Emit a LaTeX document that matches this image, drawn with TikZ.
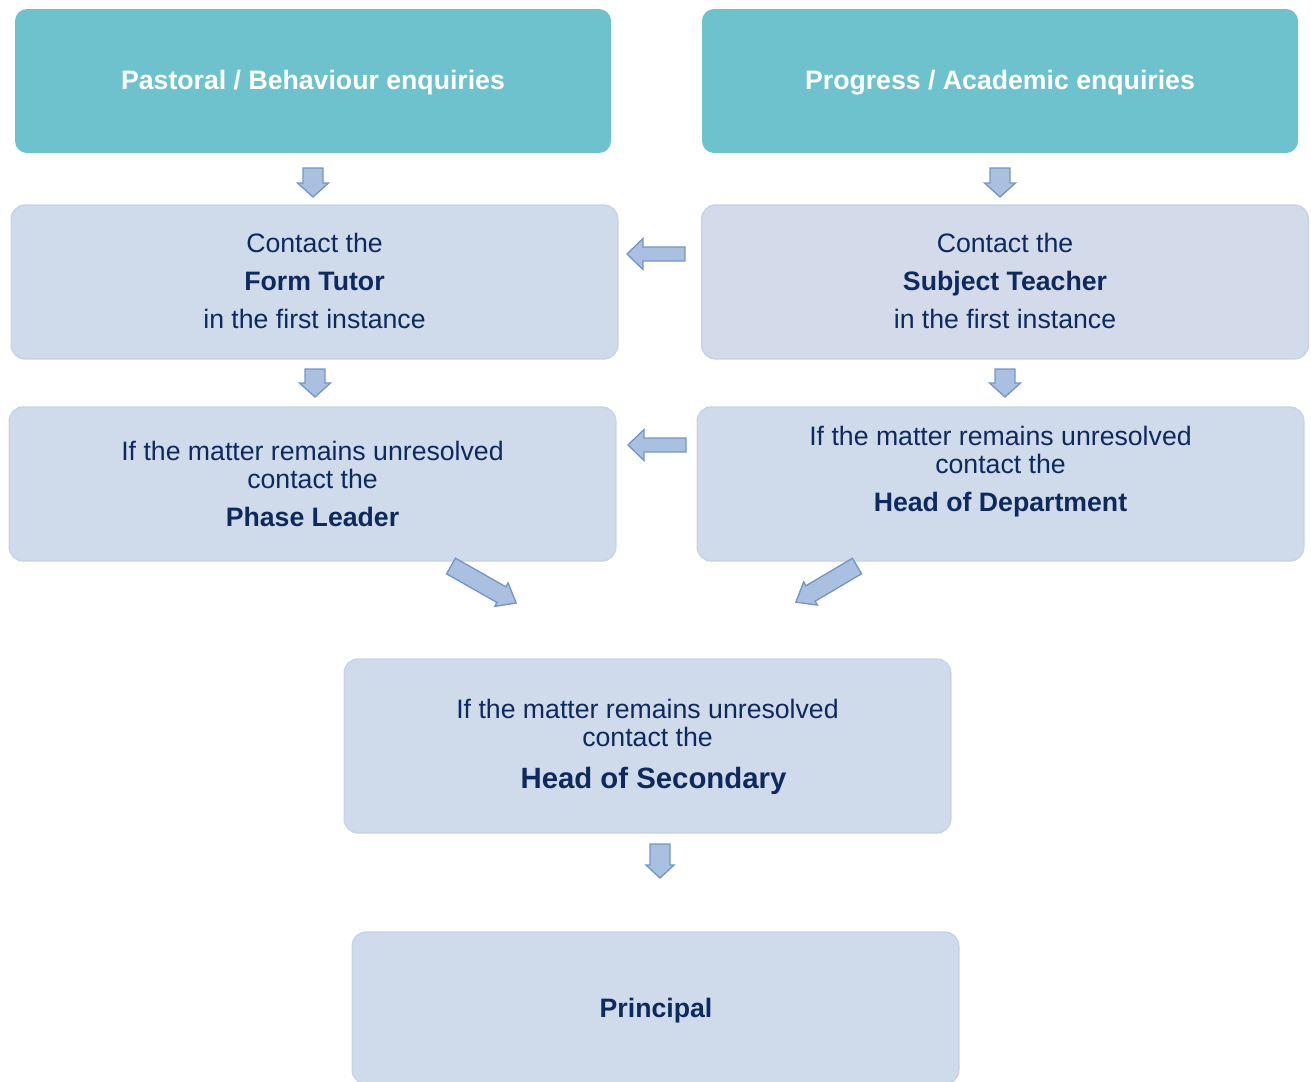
\documentclass[tikz,border=0pt]{standalone}
\usepackage{fontspec}
\setmainfont{Liberation Sans}
\definecolor{teal1}{HTML}{6EC2CD}
\definecolor{boxfill}{HTML}{CFDAEA}
\definecolor{boxfillr}{HTML}{D3DAE9}
\definecolor{boxline}{HTML}{C6D2E6}
\definecolor{navy}{HTML}{0E2A5C}
\definecolor{arrfill}{HTML}{A9C0E0}
\definecolor{arrline}{HTML}{7396C8}
\tikzset{
  header/.style={fill=teal1, draw=none, rounded corners=9pt, minimum width=447pt, minimum height=108pt, inner sep=0pt},
  lbox/.style={fill=boxfill, draw=boxline, line width=1pt, rounded corners=10.5pt, minimum width=455pt, inner sep=0pt},
  rbox/.style={lbox, fill=boxfillr},
  htxt/.style={text=white, font=\fontsize{20}{23}\selectfont\bfseries, align=center},
  txt/.style={text=navy, font=\fontsize{20}{21}\selectfont, align=center},
  arrowsty/.style={fill=arrfill, draw=arrline, line width=1pt, line join=miter},
  pics/barr/.style n args={4}{code={
    \draw[arrowsty] (0,-#2/2) -- (#1-#4,-#2/2) -- (#1-#4,-#3/2) -- (#1,0) -- (#1-#4,#3/2) -- (#1-#4,#2/2) -- (0,#2/2) -- cycle;}}
}
\begin{document}
\begin{tikzpicture}[x=0.75pt,y=-0.75pt]
\useasboundingbox (0,0) rectangle (1311,1082);
% headers
\node[header] (hl) at (313,81) {};
\node[htxt] (hlt) at (313,83) {Pastoral / Behaviour enquiries};
\node[header] (hr) at (1000,81) {};
\node[htxt] (hrt) at (1000,83) {Progress / Academic enquiries};
% row 2
\node[lbox, minimum height=115.5pt] (ft) at (314.5,282) {};
\node[txt] (ftt) at (314.5,281) {Contact the\\[7.5pt]\textbf{Form Tutor}\\[7.5pt]in the first instance};
\node[rbox, minimum height=115.5pt] (st) at (1005,282) {};
\node[txt] (stt) at (1005,281) {Contact the\\[7.5pt]\textbf{Subject Teacher}\\[7.5pt]in the first instance};
% row 3
\node[lbox, minimum height=115.5pt] (pl) at (312.5,484) {};
\node[txt] (plt) at (pl) {If the matter remains unresolved\\contact the\\[7.5pt]\textbf{Phase Leader}};
\node[lbox, minimum height=115.5pt] (hd) at (1000.5,484) {};
\node[txt] (hdt) at (1000.5,472) {If the matter remains unresolved\\contact the\\[7.5pt]\textbf{Head of Department}};
% row 4
\node[lbox, minimum height=130.5pt] (hs) at (647.5,746) {};
\node[txt] (hst) at (647.5,747) {If the matter remains unresolved\\contact the\\[10.5pt]{\fontsize{22}{24}\selectfont\bfseries\hspace*{9pt}Head of Secondary}};
% principal
\node[lbox, minimum height=114pt] (pr) at (655.5,1008) {};
\node[txt, font=\fontsize{20}{21}\selectfont\bfseries] (prt) at (656,1011) {Principal};
% block arrows
\pic[rotate=-90] at (313,168) {barr={29}{20}{31}{14}};
\pic[rotate=-90] at (1000,168) {barr={29}{20}{31}{14}};
\pic[rotate=-90] at (315,369) {barr={28}{20}{31}{14}};
\pic[rotate=-90] at (1005,369) {barr={28}{20}{31}{14}};
\pic[rotate=180] at (685,254) {barr={58}{14}{31}{16}};
\pic[rotate=180] at (686,445) {barr={58}{14}{31}{16}};
\pic[rotate=-29.6] at (451,566) {barr={75}{18}{27}{17}};
\pic[rotate=-149.4] at (857,566) {barr={71}{18}{27}{17}};
\pic[rotate=-90] at (660,844) {barr={34}{20}{28}{13}};
\end{tikzpicture}
\end{document}
